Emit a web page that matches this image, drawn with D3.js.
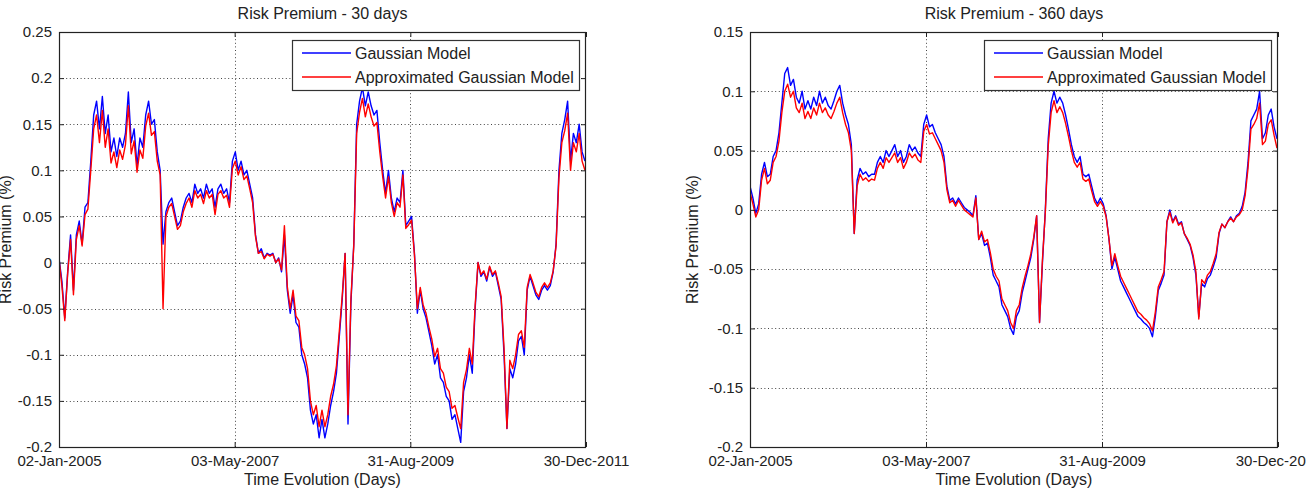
<!DOCTYPE html>
<html>
<head>
<meta charset="utf-8">
<script src="https://cdn.jsdelivr.net/npm/d3@7"></script>
<style>
  html, body { margin: 0; padding: 0; background: #fff; }
  svg { display: block; }
  text { font-family: "Liberation Sans", Arial, sans-serif; fill: #222; }
</style>
</head>
<body>
<svg id="chart" width="1306" height="497"></svg>
<script>
// ---------------- DATA ----------------
const startDate = "2005-01-02";
const endDate = "2011-12-30";
const sampleStepDays = 14; // one reading every 14 calendar days

const xTickDates = ["2005-01-02", "2007-05-03", "2009-08-31", "2011-12-30"];
const xTickLabels = ["02-Jan-2005", "03-May-2007", "31-Aug-2009", "30-Dec-2011"];

const leftTitle = "Risk Premium - 30 days";
const rightTitle = "Risk Premium - 360 days";
const xLabel = "Time Evolution (Days)";
const yLabel = "Risk Premium (%)";
const seriesNames = ["Gaussian Model", "Approximated Gaussian Model"];

const leftYTicks = [-0.2, -0.15, -0.1, -0.05, 0, 0.05, 0.1, 0.15, 0.2, 0.25];
const leftYTickLabels = ["-0.2", "-0.15", "-0.1", "-0.05", "0", "0.05", "0.1", "0.15", "0.2", "0.25"];
const rightYTicks = [-0.2, -0.15, -0.1, -0.05, 0, 0.05, 0.1, 0.15];
const rightYTickLabels = ["-0.2", "-0.15", "-0.1", "-0.05", "0", "0.05", "0.1", "0.15"];

// 30 days - Gaussian Model
const left30Gaussian = [
0.005,-0.02,-0.06,-0.01,0.03,-0.03,0.03,0.045,0.02,0.06,
0.065,0.11,0.16,0.175,0.145,0.18,0.14,0.16,0.12,0.135,
0.115,0.135,0.125,0.14,0.185,0.13,0.145,0.105,0.135,0.125,
0.16,0.175,0.15,0.155,0.12,0.1,0.02,0.055,0.065,0.07,
0.055,0.04,0.045,0.06,0.07,0.075,0.065,0.085,0.075,0.08,
0.07,0.085,0.075,0.08,0.06,0.08,0.085,0.075,0.08,0.065,
0.11,0.12,0.1,0.11,0.095,0.1,0.085,0.07,0.03,0.01,
0.015,0.005,0.01,0.008,0.01,0.0,0.005,-0.01,0.03,-0.03,
-0.055,-0.035,-0.065,-0.07,-0.1,-0.11,-0.125,-0.16,-0.175,-0.165,
-0.19,-0.17,-0.19,-0.175,-0.155,-0.14,-0.12,-0.08,-0.04,0.01,
-0.175,-0.045,0.02,0.15,0.175,0.19,0.17,0.185,0.17,0.16,
0.165,0.13,0.1,0.075,0.1,0.07,0.055,0.07,0.065,0.1,
0.04,0.045,0.05,0.01,-0.055,-0.03,-0.05,-0.06,-0.075,-0.09,
-0.11,-0.1,-0.125,-0.13,-0.145,-0.15,-0.17,-0.165,-0.18,-0.195,
-0.14,-0.125,-0.1,-0.12,-0.05,0.0,-0.015,-0.01,-0.02,-0.005,
-0.015,-0.01,-0.025,-0.04,-0.1,-0.18,-0.115,-0.125,-0.11,-0.085,
-0.08,-0.1,-0.03,-0.015,-0.025,-0.035,-0.04,-0.03,-0.025,-0.03,
-0.025,-0.01,0.02,0.1,0.14,0.155,0.175,0.11,0.14,0.13,
0.15,0.12,0.11];

// 30 days - Approximated Gaussian Model
const left30Approx = [
0.004,-0.025,-0.063,-0.012,0.025,-0.035,0.025,0.04,0.018,0.052,
0.058,0.1,0.145,0.16,0.13,0.165,0.125,0.145,0.108,0.12,
0.103,0.122,0.112,0.128,0.17,0.118,0.132,0.098,0.122,0.113,
0.148,0.162,0.138,0.142,0.11,0.095,-0.05,0.05,0.06,0.064,
0.05,0.036,0.04,0.055,0.064,0.07,0.06,0.078,0.07,0.074,
0.064,0.078,0.07,0.074,0.052,0.074,0.078,0.07,0.073,0.06,
0.102,0.11,0.095,0.104,0.09,0.094,0.08,0.065,0.028,0.01,
0.012,0.004,0.009,0.007,0.009,0.0,0.004,-0.008,0.04,-0.026,
-0.05,-0.03,-0.058,-0.063,-0.092,-0.1,-0.115,-0.15,-0.165,-0.155,
-0.178,-0.16,-0.178,-0.165,-0.145,-0.132,-0.112,-0.074,-0.036,0.01,
-0.165,-0.04,0.018,0.14,0.163,0.178,0.158,0.172,0.158,0.148,
0.152,0.12,0.093,0.07,0.093,0.065,0.05,0.065,0.06,0.095,
0.037,0.041,0.046,0.008,-0.05,-0.027,-0.046,-0.055,-0.07,-0.083,
-0.102,-0.093,-0.115,-0.12,-0.135,-0.14,-0.158,-0.155,-0.168,-0.18,
-0.13,-0.116,-0.093,-0.11,-0.046,0.0,-0.013,-0.009,-0.018,-0.004,
-0.013,-0.009,-0.022,-0.037,-0.093,-0.18,-0.106,-0.115,-0.1,-0.078,
-0.074,-0.092,-0.027,-0.013,-0.022,-0.032,-0.037,-0.027,-0.022,-0.027,
-0.022,-0.009,0.018,0.092,0.13,0.143,0.162,0.1,0.13,0.12,
0.14,0.11,0.1];

// 360 days - Gaussian Model
const right360Gaussian = [
0.02,0.01,-0.003,0.005,0.03,0.04,0.028,0.03,0.045,0.05,
0.065,0.09,0.115,0.12,0.105,0.11,0.095,0.09,0.1,0.085,
0.092,0.085,0.095,0.088,0.1,0.09,0.095,0.088,0.085,0.092,
0.1,0.105,0.09,0.08,0.072,0.055,-0.02,0.025,0.035,0.03,
0.032,0.028,0.03,0.03,0.04,0.045,0.04,0.05,0.045,0.05,
0.055,0.045,0.05,0.04,0.045,0.055,0.05,0.053,0.048,0.045,
0.072,0.08,0.07,0.072,0.065,0.06,0.055,0.045,0.02,0.008,
0.01,0.005,0.01,0.006,0.002,0.0,-0.002,-0.005,0.012,-0.025,
-0.02,-0.03,-0.028,-0.04,-0.055,-0.06,-0.065,-0.08,-0.085,-0.09,
-0.1,-0.105,-0.09,-0.085,-0.07,-0.06,-0.05,-0.04,-0.025,-0.005,
-0.095,-0.045,0.0,0.06,0.09,0.1,0.09,0.095,0.09,0.08,
0.068,0.055,0.045,0.04,0.045,0.03,0.028,0.03,0.02,0.01,
0.005,0.01,0.005,-0.005,-0.025,-0.05,-0.04,-0.05,-0.06,-0.065,
-0.07,-0.075,-0.08,-0.085,-0.09,-0.092,-0.095,-0.097,-0.1,-0.107,
-0.09,-0.068,-0.062,-0.055,-0.01,0.0,-0.01,-0.005,-0.012,-0.01,
-0.02,-0.025,-0.03,-0.04,-0.055,-0.09,-0.062,-0.065,-0.058,-0.055,
-0.048,-0.04,-0.02,-0.012,-0.015,-0.01,-0.006,-0.01,-0.005,-0.003,
0.003,0.015,0.04,0.075,0.08,0.085,0.1,0.06,0.065,0.08,
0.085,0.07,0.06];

// 360 days - Approximated Gaussian Model
const right360Approx = [
0.015,0.005,-0.006,0.0,0.025,0.035,0.022,0.025,0.04,0.045,
0.058,0.082,0.1,0.106,0.095,0.1,0.086,0.082,0.09,0.077,
0.083,0.077,0.086,0.08,0.09,0.082,0.086,0.08,0.077,0.083,
0.09,0.095,0.082,0.072,0.065,0.05,-0.02,0.02,0.03,0.025,
0.027,0.024,0.026,0.025,0.035,0.04,0.035,0.044,0.04,0.044,
0.048,0.04,0.044,0.035,0.04,0.048,0.044,0.047,0.042,0.04,
0.066,0.072,0.064,0.065,0.06,0.055,0.05,0.04,0.017,0.006,
0.008,0.003,0.008,0.004,0.0,-0.002,-0.004,-0.006,0.01,-0.025,
-0.018,-0.027,-0.025,-0.036,-0.05,-0.056,-0.06,-0.075,-0.08,-0.085,
-0.095,-0.1,-0.085,-0.08,-0.066,-0.056,-0.047,-0.037,-0.023,-0.005,
-0.095,-0.042,-0.002,0.054,0.082,0.092,0.082,0.087,0.082,0.073,
0.062,0.05,0.04,0.036,0.04,0.026,0.024,0.026,0.016,0.007,
0.003,0.007,0.003,-0.006,-0.025,-0.047,-0.037,-0.047,-0.056,-0.061,
-0.066,-0.071,-0.076,-0.081,-0.086,-0.088,-0.091,-0.093,-0.096,-0.102,
-0.086,-0.065,-0.059,-0.052,-0.01,-0.002,-0.011,-0.006,-0.013,-0.011,
-0.02,-0.024,-0.029,-0.038,-0.052,-0.092,-0.059,-0.062,-0.055,-0.052,
-0.045,-0.037,-0.019,-0.012,-0.015,-0.01,-0.007,-0.01,-0.006,-0.004,
0.0,0.012,0.035,0.068,0.072,0.077,0.09,0.055,0.058,0.072,
0.076,0.063,0.052];

// ---------------- DRAWING ----------------
const parse = d3.timeParse("%Y-%m-%d");
const t0 = parse(startDate), t1 = parse(endDate);
const sampleDates = left30Gaussian.map((_, i) => d3.timeDay.offset(t0, i * sampleStepDays));
const colors = ["#0000ff", "#ff0000"];

const svg = d3.select("#chart");

function drawPanel(cfg) {
  const { left, right, top, bottom, yDomain, yTicks, yTickLabels, title, series, yLabelX, id } = cfg;
  const x = d3.scaleTime().domain([t0, t1]).range([left, right]);
  const y = d3.scaleLinear().domain(yDomain).range([bottom, top]);
  const g = svg.append("g");

  g.append("clipPath").attr("id", "clip" + id)
    .append("rect").attr("x", left).attr("y", top).attr("width", right - left).attr("height", bottom - top);

  // grid
  const grid = g.append("g").attr("stroke", "#444").attr("stroke-width", 1).attr("stroke-dasharray", "1,2.6");
  grid.selectAll(".gx").data(xTickDates.slice(1, -1)).enter().append("line")
    .attr("x1", d => Math.round(x(parse(d))) + 0.5).attr("x2", d => Math.round(x(parse(d))) + 0.5)
    .attr("y1", top).attr("y2", bottom);
  grid.selectAll(".gy").data(yTicks.slice(1, -1)).enter().append("line")
    .attr("y1", d => Math.round(y(d)) + 0.5).attr("y2", d => Math.round(y(d)) + 0.5)
    .attr("x1", left).attr("x2", right);

  // lines
  const line = d3.line().x((d, i) => x(sampleDates[i])).y(d => y(d));
  const lg = g.append("g").attr("clip-path", `url(#clip${id})`);
  series.forEach((s, k) => {
    lg.append("path").datum(s).attr("d", line)
      .attr("fill", "none").attr("stroke", colors[k]).attr("stroke-width", 1.4)
      .attr("stroke-linejoin", "round");
  });

  // axes with inward ticks
  const xt = xTickDates.map(parse);
  const axB = d3.axisBottom(x).tickValues(xt).tickSize(-5).tickPadding(8)
    .tickFormat((d, i) => xTickLabels[i]);
  const axT = d3.axisTop(x).tickValues(xt).tickSize(-5).tickFormat("");
  const axL = d3.axisLeft(y).tickValues(yTicks).tickSize(-5).tickPadding(7)
    .tickFormat((d, i) => yTickLabels[i]);
  const axR = d3.axisRight(y).tickValues(yTicks).tickSize(-5).tickFormat("");

  const styleAxis = sel => {
    sel.select(".domain").remove();
    sel.selectAll("line").attr("stroke", "#222");
    sel.selectAll("text").attr("fill", "#222").style("font-size", "15px")
      .style("font-family", '"Liberation Sans", Arial, sans-serif');
  };
  g.append("g").attr("transform", `translate(0,${bottom})`).call(axB).call(styleAxis);
  g.append("g").attr("transform", `translate(0,${top})`).call(axT).call(styleAxis);
  g.append("g").attr("transform", `translate(${left},0)`).call(axL).call(styleAxis);
  g.append("g").attr("transform", `translate(${right},0)`).call(axR).call(styleAxis);

  // box
  g.append("rect").attr("x", left + 0.5).attr("y", top + 0.5)
    .attr("width", right - left - 1).attr("height", bottom - top)
    .attr("fill", "none").attr("stroke", "#222").attr("stroke-width", 1.2);

  // title and labels
  const cx = (left + right) / 2;
  g.append("text").attr("x", cx).attr("y", 19).attr("text-anchor", "middle")
    .style("font-size", "16px").text(title);
  g.append("text").attr("x", cx).attr("y", 485).attr("text-anchor", "middle")
    .style("font-size", "16px").text(xLabel);
  g.append("text").attr("transform", `translate(${yLabelX},${(top + bottom) / 2}) rotate(-90)`)
    .attr("text-anchor", "middle").style("font-size", "16px").text(yLabel);

  // legend
  const lw = 287, lh = 50;
  const lx = right - 7 - lw, ly = top + 8;
  const leg = g.append("g");
  leg.append("rect").attr("x", lx + 0.5).attr("y", ly + 0.5).attr("width", lw).attr("height", lh)
    .attr("fill", "#fff").attr("stroke", "#333").attr("stroke-width", 1.2);
  seriesNames.forEach((name, k) => {
    const yy = ly + 13 + k * 24;
    leg.append("line").attr("x1", lx + 10).attr("x2", lx + 59).attr("y1", yy).attr("y2", yy)
      .attr("stroke", colors[k]).attr("stroke-width", 1.4);
    leg.append("text").attr("x", lx + 63).attr("y", yy).attr("dy", "0.35em")
      .style("font-size", "16px").text(name);
  });
}

drawPanel({
  id: "L", left: 59, right: 586, top: 32, bottom: 447,
  yDomain: [-0.2, 0.25], yTicks: leftYTicks, yTickLabels: leftYTickLabels,
  title: leftTitle, series: [left30Gaussian, left30Approx], yLabelX: 11
});
drawPanel({
  id: "R", left: 750, right: 1278, top: 32, bottom: 447,
  yDomain: [-0.2, 0.15], yTicks: rightYTicks, yTickLabels: rightYTickLabels,
  title: rightTitle, series: [right360Gaussian, right360Approx], yLabelX: 698
});
</script>
</body>
</html>
